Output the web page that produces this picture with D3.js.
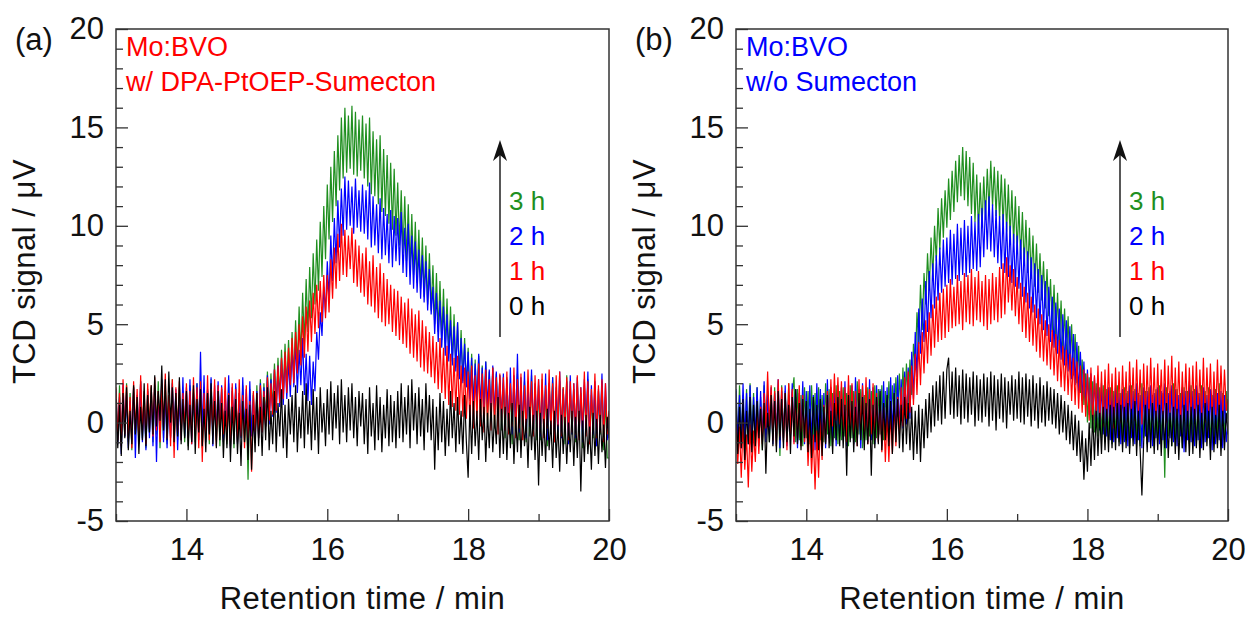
<!DOCTYPE html>
<html>
<head>
<meta charset="utf-8">
<script src="https://cdn.jsdelivr.net/npm/d3@7"></script>
<style>
  html, body { margin: 0; padding: 0; background: #fff; }
  svg { display: block; font-family: "Liberation Sans", Arial, Helvetica, sans-serif; }
</style>
</head>
<body>
<svg id="chart" width="1249" height="617"></svg>
<script>
// Retention-time window and signal range shared by both chromatograms
const retentionDomain = [13, 20];
const signalDomain = [-5, 20];
const xMajorTicks = [14, 16, 18, 20];
const xMinorTicks = [13, 15, 17, 19];
const yMajorTicks = [-5, 0, 5, 10, 15, 20];
const yMinorTicks = [-4, -3, -2, -1, 1, 2, 3, 4, 6, 7, 8, 9, 11, 12, 13, 14, 16, 17, 18, 19];
const timeLabels = ["3 h", "2 h", "1 h", "0 h"];
const panelTags = ["(a)", "(b)"];
const sampleTitles = [["Mo:BVO", "w/ DPA-PtOEP-Sumecton"], ["Mo:BVO", "w/o Sumecton"]];

// TCD traces (µV), sampled evenly from 13 to 20 min
const panelA_0h = [
  1.2,-1.3,0.9,-1.7,1.5,-0.8,1.8,-1.4,0.6,-1.1,1.9,-0.6,1.3,-1.6,0.8,-0.9,2.0,-1.2,1.4,-0.5,
  1.9,-0.6,2.4,-0.2,1.6,0.1,2.9,-0.4,2.2,-0.9,2.6,0.0,1.8,-1.0,1.5,-0.7,2.3,-1.1,1.2,-0.8,
  1.6,-1.4,0.9,-1.0,1.9,-1.6,1.2,-0.5,1.7,-1.2,0.7,-1.5,1.5,-0.6,2.0,-1.1,1.1,-1.3,1.6,-0.9,
  1.0,-1.8,0.6,-1.3,1.4,-2.0,0.8,-1.1,1.2,-1.6,0.5,-2.2,1.1,-1.0,0.7,-1.9,0.9,-2.4,0.4,-1.5,
  1.5,-1.2,0.8,-1.7,1.3,-0.9,1.8,-1.4,0.6,-1.1,1.6,-1.5,1.0,-0.7,1.7,-1.3,0.9,-1.8,1.2,-0.6,
  1.4,-1.0,1.9,-1.5,0.8,-0.8,1.6,-1.3,2.0,-0.6,1.1,-1.4,1.7,-0.9,1.3,-1.6,1.8,-0.5,1.0,-1.2,
  1.7,-0.6,2.1,-0.9,1.5,-0.3,1.9,-1.1,2.2,-0.5,1.4,-1.0,1.8,-0.4,2.0,-0.8,1.3,-1.2,1.6,-0.2,
  1.5,-1.1,1.2,-1.6,1.8,-0.7,1.0,-1.4,1.9,-0.9,1.3,-1.5,0.9,-0.8,1.7,-1.2,1.4,-1.0,1.1,-1.3,
  1.6,-0.8,2.0,-1.0,1.3,-0.6,1.9,-1.3,2.2,-0.4,1.5,-1.1,1.8,-0.7,1.2,-1.4,2.0,-0.5,1.4,-0.9,
  1.2,-2.4,0.8,-1.4,1.5,-1.0,1.1,-1.7,0.7,-1.2,1.6,-0.8,1.0,-1.5,1.3,-1.1,0.6,-1.6,1.4,-1.0,
  -2.8,0.9,-1.6,1.1,-1.2,0.6,-1.9,1.2,-0.9,0.8,-2.0,0.5,-1.3,1.0,-1.5,0.4,-1.1,1.3,-1.8,0.7,
  -1.6,0.8,-1.9,0.5,-1.3,1.0,-2.1,0.3,-1.5,0.9,-1.8,0.6,-1.2,0.2,-2.3,0.8,-1.4,0.4,-1.9,0.6,
  -3.2,0.5,-1.7,0.2,-2.0,0.7,-1.4,0.1,-2.3,0.6,-1.8,-0.1,-2.5,0.4,-1.6,0.3,-2.1,0.0,-1.5,0.6,
  -2.2,0.3,-1.8,0.6,-3.5,0.1,-2.0,0.4,-1.6,-0.2,-2.4,0.5,-1.7,0.2,-2.1,0.4,-1.5,-0.1,-2.3,0.3,
  -0.8
];
const panelA_1h = [
  1.8,-0.9,1.5,-1.2,2.2,-0.6,1.9,-0.8,1.3,-1.3,2.1,-0.4,1.7,-1.0,2.4,-0.5,1.6,-1.1,2.0,-0.3,
  1.9,-0.7,2.3,-0.4,1.6,-1.0,2.0,-0.2,2.5,-0.8,1.4,-1.2,2.2,-1.8,1.8,-0.5,2.1,-0.9,1.5,-0.3,
  2.0,-0.8,1.6,-1.1,2.3,-0.5,1.8,-1.3,2.1,-2.0,1.5,-0.6,2.4,-0.9,1.7,-0.4,2.2,-1.2,1.9,-0.7,
  1.8,-0.6,2.3,-0.9,1.5,-1.2,2.0,-0.4,1.7,-1.0,2.2,-0.7,1.4,-1.3,1.9,-0.8,1.1,-2.5,1.6,-0.5,
  1.5,-0.8,1.9,-0.5,1.6,-0.2,2.3,0.1,2.0,0.4,2.7,0.6,2.9,1.0,3.3,1.2,3.6,1.5,3.8,1.9,
  4.3,2.0,4.6,2.5,5.0,2.9,5.4,3.3,5.9,3.6,6.2,4.1,6.6,4.5,7.0,4.8,7.2,5.1,7.5,5.3,
  7.5,5.6,8.3,6.3,8.9,6.8,9.6,7.2,10.1,7.5,9.8,7.4,9.5,7.8,9.9,7.1,9.3,6.9,9.0,6.6,
  8.6,6.4,8.9,6.0,8.2,5.9,8.5,5.6,7.9,5.3,8.1,5.1,7.6,4.9,7.3,5.0,7.0,4.6,6.8,4.4,
  6.7,4.2,6.4,4.0,6.1,3.8,6.3,3.5,5.8,3.3,5.5,3.1,5.7,2.8,5.2,2.6,4.9,2.5,4.6,2.3,
  4.4,2.0,4.1,1.7,4.3,1.5,3.8,1.2,3.9,0.9,3.5,0.8,3.3,0.6,3.4,0.4,2.9,0.3,2.8,0.2,
  2.6,0.0,2.9,-0.3,2.4,0.2,3.0,-0.2,2.5,-0.5,2.7,0.1,2.2,-0.4,2.8,-0.1,2.3,-0.6,2.5,0.0,
  2.3,-0.4,2.6,-0.6,2.0,-0.2,2.8,-0.8,2.2,-0.3,2.5,-0.9,1.9,-0.5,2.7,-0.1,2.1,-0.7,2.4,-0.3,
  2.2,-0.5,2.5,-0.8,1.9,-0.3,2.7,-0.6,2.0,-1.0,2.4,-0.2,2.6,-0.7,1.8,-0.4,2.3,-0.9,2.1,-0.5,
  2.0,-0.6,2.4,-0.9,1.8,-0.4,2.6,-0.7,2.1,-1.1,1.7,-0.3,2.5,-0.8,1.9,-0.5,2.2,-1.0,2.0,-0.6,
  0.6
];
const panelA_2h = [
  1.7,-1.1,1.3,-1.6,2.0,-0.7,1.5,-1.3,1.1,-0.9,1.8,-1.8,1.4,-0.6,2.1,-1.0,1.2,-1.4,1.6,-0.8,
  1.5,-1.2,1.9,-2.0,1.4,-0.5,2.2,-1.0,1.6,-1.3,1.2,-0.8,2.0,-0.6,1.7,-1.4,1.3,-0.9,2.3,-0.7,
  1.8,-0.8,2.2,-1.1,1.5,-0.4,2.0,-0.9,3.6,-0.6,2.4,-1.0,1.7,-0.5,2.3,-1.2,1.9,-0.7,2.1,-0.3,
  1.9,-1.0,1.6,-0.6,2.4,-1.3,1.8,-0.4,2.0,-1.1,1.5,-0.8,2.3,-0.5,1.7,-1.2,2.1,-0.7,1.4,-0.9,
  1.6,-0.8,2.0,-0.5,1.8,-0.2,2.4,-0.1,2.2,0.3,2.7,0.5,2.9,0.8,3.2,0.9,3.4,1.2,3.1,1.3,
  3.8,1.8,4.1,1.5,3.7,1.9,4.3,1.4,3.5,1.1,3.4,0.9,3.1,1.6,4.6,3.2,5.6,4.4,6.9,5.6,
  8.2,6.3,9.5,7.2,10.4,8.1,11.3,8.9,11.9,9.5,12.5,9.8,12.3,10.0,12.0,9.6,12.4,9.9,11.8,9.7,
  12.1,9.6,11.8,9.3,12.2,8.9,11.5,9.0,11.1,8.6,11.4,8.3,10.9,8.5,10.6,8.1,10.8,7.9,10.5,8.2,
  10.4,8.0,10.7,7.6,9.9,7.4,10.1,7.0,9.5,6.8,9.2,6.6,8.8,6.3,8.5,6.1,8.2,5.7,7.8,5.5,
  6.9,4.5,6.6,4.1,6.2,3.8,5.9,3.4,5.5,3.1,5.2,2.9,4.9,2.6,5.1,2.2,4.3,2.0,4.0,1.8,
  3.6,1.2,3.3,0.9,3.0,1.1,3.5,0.7,2.8,0.5,3.1,0.8,2.7,0.3,2.9,0.4,2.6,0.2,2.4,0.1,
  2.5,-0.4,2.2,-0.2,2.8,-0.6,2.4,-0.1,3.5,-0.5,2.3,-0.3,2.6,-0.8,2.1,-0.2,2.7,-0.6,2.0,-0.4,
  2.2,-0.7,1.9,-0.4,2.5,-0.9,2.0,-0.3,2.3,-1.0,1.8,-0.5,2.6,-0.8,1.7,-0.2,2.1,-1.1,2.4,-0.6,
  2.0,-0.8,2.3,-0.5,1.8,-1.0,2.2,-0.3,2.6,-0.9,1.9,-0.6,2.1,-1.2,1.7,-0.4,2.5,-0.7,2.0,-0.9,
  0.5
];
const panelA_3h = [
  1.6,-0.9,1.9,-1.2,1.3,-0.7,2.0,-1.0,1.5,-1.4,1.8,-0.6,1.2,-1.1,2.1,-0.8,1.4,-1.3,1.7,-0.5,
  1.8,-1.0,1.4,-0.6,2.1,-1.3,1.6,-0.8,1.9,-1.1,1.3,-0.7,2.2,-1.2,1.5,-0.9,1.8,-0.4,1.6,-1.0,
  1.5,-1.2,1.9,-0.7,1.7,-1.0,2.0,-0.5,1.4,-1.3,1.8,-0.8,1.6,-1.1,2.2,-0.6,1.3,-0.9,1.9,-1.2,
  1.7,-0.8,1.4,-1.1,2.0,-0.6,1.6,-1.3,1.8,-0.9,1.5,-0.7,1.9,-1.0,1.3,-2.9,1.7,-0.5,1.5,-1.0,
  1.9,-0.6,2.2,-0.3,2.0,0.1,2.6,0.3,2.5,0.7,3.0,0.9,3.3,1.2,3.7,1.5,4.0,1.8,4.2,2.0,
  4.6,2.2,5.2,2.8,5.9,3.3,6.6,4.0,7.3,4.6,7.9,5.3,8.6,6.0,9.3,6.7,10.2,7.4,11.0,8.3,
  12.1,9.3,13.0,10.2,13.8,11.0,14.6,11.8,15.5,12.4,16.0,12.7,15.6,12.9,16.1,12.6,15.8,12.5,15.4,12.8,
  15.6,12.4,15.2,12.0,15.5,11.6,14.8,11.5,14.4,11.1,14.6,10.7,13.9,10.5,13.6,10.1,13.2,9.8,12.9,9.5,
  12.2,9.0,11.8,8.6,11.5,8.2,11.1,7.8,10.6,7.5,10.2,7.1,9.8,6.8,9.4,6.4,9.0,6.0,8.6,5.7,
  8.0,5.0,7.6,4.6,7.2,4.2,6.8,3.8,6.3,3.5,5.9,3.1,5.5,2.8,5.1,2.4,4.7,2.1,4.3,1.8,
  3.8,1.1,3.5,0.8,3.2,0.5,3.4,0.3,2.9,0.1,3.1,-0.1,2.6,0.2,2.8,-0.3,2.5,-0.2,2.4,-0.4,
  2.0,-0.8,2.3,-0.5,1.8,-1.1,2.2,-0.6,2.5,-0.9,1.7,-0.4,2.1,-1.0,1.9,-0.7,2.4,-0.5,1.8,-0.9,
  1.9,-0.9,2.2,-0.6,1.7,-1.2,2.0,-0.4,2.3,-1.0,1.6,-0.7,2.1,-0.5,1.8,-1.1,2.4,-0.8,1.7,-0.6,
  1.7,-1.0,2.0,-0.7,1.5,-1.3,1.9,-0.5,2.2,-1.1,1.4,-0.8,1.8,-1.2,1.6,-0.6,2.1,-1.4,1.3,-1.8,
  -1.8
];

const panelB_0h = [
  1.0,-1.6,0.8,-1.3,1.2,-1.9,0.6,-1.1,1.3,-1.5,0.9,-1.2,1.1,-0.8,0.7,-1.4,1.0,-2.6,0.5,-1.0,
  1.4,-1.2,1.1,-1.5,1.6,-0.9,1.2,-1.3,1.5,-1.0,0.9,-1.6,1.3,-0.7,1.7,-1.1,1.0,-1.4,1.2,-0.8,
  1.1,-1.5,0.7,-1.8,1.3,-1.0,0.9,-1.4,1.2,-1.7,0.8,-1.1,1.4,-1.3,0.6,-1.6,1.0,-0.9,1.3,-1.2,
  1.2,-1.3,0.9,-2.7,1.4,-1.0,1.1,-1.5,0.8,-1.2,1.5,-0.9,1.3,-1.4,1.0,-1.1,1.2,-2.7,0.9,-1.3,
  1.3,-1.1,1.6,-1.4,1.0,-0.9,1.4,-1.2,1.1,-1.6,1.5,-1.0,1.2,-1.3,0.9,-1.5,1.3,-1.1,1.0,-1.4,
  0.8,-1.9,0.6,-1.6,0.9,-2.0,0.7,-1.3,1.2,-0.8,1.5,-0.5,1.9,-0.2,2.1,0.1,2.4,-0.1,2.6,0.2,
  2.7,3.3,0.4,2.6,0.2,2.8,0.3,2.4,-0.1,2.7,0.2,2.5,0.0,2.3,0.4,2.6,-0.2,2.4,0.1,2.2,
  0.0,2.5,0.3,2.3,-0.2,2.6,0.1,2.4,-0.4,2.2,0.2,2.5,0.0,2.3,-0.3,2.1,0.4,2.4,0.1,2.2,
  0.2,2.6,0.0,2.3,-0.1,2.5,0.3,2.2,-0.2,2.4,0.1,2.0,-0.3,2.3,0.0,1.9,-0.2,2.1,0.1,1.8,
  -0.1,1.7,-0.3,1.5,-0.6,1.4,-0.5,1.1,-0.9,0.9,-1.1,0.6,-1.4,0.4,-1.7,0.1,-2.0,-0.4,-2.9,-0.8,
  -2.5,0.0,-2.2,0.4,-1.9,0.6,-1.7,0.5,-1.6,0.8,-1.4,0.7,-1.5,0.9,-1.3,0.8,-1.4,1.0,-1.2,0.9,
  -1.5,0.8,-1.3,1.0,-1.6,0.7,-1.2,1.1,-1.7,0.6,-1.4,-3.7,-1.0,0.9,-1.5,0.7,-1.3,1.0,-1.6,0.6,
  -1.4,0.9,-1.7,0.6,-1.3,1.0,-1.8,0.5,-1.2,0.8,-1.6,0.7,-1.9,0.4,-1.3,0.9,-1.5,0.6,-1.7,0.8,
  -1.6,0.7,-1.3,0.9,-1.8,0.5,-1.4,1.0,-1.2,0.6,-1.9,0.8,-1.5,0.4,-1.3,0.9,-1.7,0.6,-1.4,0.5,
  -0.6
];
const panelB_1h = [
  0.3,-2.1,-0.2,-2.8,0.1,-2.4,-0.6,-3.3,-0.1,-2.5,-0.4,-2.0,0.4,-1.6,0.8,-1.1,1.5,-0.3,2.6,-0.2,
  1.9,-0.9,1.6,-1.2,2.2,-0.7,1.8,-1.0,1.5,-1.4,2.0,-0.6,1.7,-1.1,1.3,-0.8,1.9,-1.2,1.4,-1.0,
  0.5,-2.2,0.1,-2.6,-0.6,-3.4,-0.4,-2.8,0.2,-1.9,0.9,-1.0,1.6,-0.5,2.2,-0.2,2.5,0.1,2.3,-0.1,
  2.1,-0.7,1.8,-1.0,2.4,-0.5,2.0,-0.9,1.6,-1.2,2.2,-0.4,1.9,-0.8,2.3,-1.1,1.7,-0.6,2.0,-0.9,
  1.5,-1.0,1.2,-1.5,0.8,-2.0,0.4,-2.0,0.5,-1.6,0.9,-1.2,1.3,-0.6,1.8,-0.2,2.3,0.2,2.6,0.5,
  2.9,0.9,3.5,1.4,4.1,1.9,4.6,2.5,5.2,3.0,5.6,3.4,6.0,3.8,6.4,4.1,6.6,4.2,6.8,4.3,
  7.0,4.6,7.3,4.8,6.9,4.9,7.5,5.0,7.2,4.7,7.6,5.1,7.5,5.0,7.8,4.9,7.4,5.2,7.7,5.1,
  7.2,4.9,7.5,4.7,7.3,5.0,7.6,5.2,7.4,5.1,7.9,5.3,8.1,5.5,8.4,6.1,8.0,5.7,7.8,5.4,
  7.4,5.0,7.1,4.6,6.9,4.3,6.6,4.1,6.4,3.9,6.0,3.6,5.8,3.3,5.5,3.1,5.2,2.9,5.0,2.7,
  4.7,2.4,4.5,2.1,4.2,1.8,3.9,1.6,3.7,1.4,3.5,1.1,3.3,0.9,3.1,0.7,2.9,0.5,2.7,0.3,
  2.5,0.1,2.8,-0.1,2.4,0.3,2.9,0.0,2.6,-0.2,2.7,0.2,3.0,0.1,2.5,-0.3,2.8,0.2,2.6,0.0,
  2.9,0.3,2.6,0.0,3.1,0.5,2.8,0.1,3.2,0.4,2.7,-0.1,3.0,0.3,2.9,0.2,3.3,0.4,2.8,0.1,
  3.0,0.2,2.7,0.4,3.2,0.0,2.9,0.5,3.4,0.1,2.8,0.3,3.1,-0.1,2.6,0.4,3.0,0.2,2.8,0.3,
  2.9,0.1,3.1,0.4,2.7,0.2,3.3,0.0,2.8,0.5,3.0,0.1,2.6,0.3,3.2,0.2,2.9,0.4,2.7,0.6,
  1.2
];
const panelB_2h = [
  1.7,-1.0,1.4,-1.3,2.0,-0.8,1.5,-1.1,1.9,-1.4,1.3,-0.7,1.8,-1.2,1.6,-0.9,2.1,-1.0,1.4,-0.6,
  1.8,-1.1,1.5,-0.8,2.2,-1.3,1.6,-0.9,1.9,-1.2,1.4,-0.6,2.0,-1.0,1.7,-1.3,1.5,-0.8,2.1,-1.1,
  1.6,-1.2,1.9,-0.9,1.4,-1.4,2.0,-0.7,1.7,-1.1,1.5,-1.3,2.2,-0.8,1.8,-1.0,1.6,-1.2,1.9,-0.7,
  1.8,-0.9,2.1,-1.2,1.6,-0.7,1.9,-1.1,2.3,-0.8,1.7,-1.3,2.0,-0.6,1.5,-1.0,2.2,-0.9,1.8,-1.1,
  1.9,-0.9,1.7,-1.2,2.1,-0.8,1.8,-1.0,2.3,-0.6,2.0,-0.7,2.4,-0.4,2.2,-0.3,2.6,-0.1,2.8,0.2,
  3.6,1.2,4.6,2.3,5.8,3.5,6.3,4.1,7.2,4.6,7.7,5.3,8.1,5.8,8.5,6.2,8.9,6.6,9.3,6.9,
  9.4,7.1,9.8,7.0,9.6,7.3,10.1,7.2,9.9,7.5,10.3,7.4,10.0,7.6,10.5,7.8,10.2,7.7,10.6,7.9,
  10.9,8.4,11.3,8.8,11.5,8.7,11.1,8.4,10.8,8.1,10.5,7.8,10.6,7.6,10.2,7.4,10.0,7.1,9.6,6.9,
  9.5,6.8,9.3,6.4,8.9,6.1,8.7,5.8,8.4,5.6,8.1,5.3,7.8,5.0,7.5,4.7,7.2,4.4,6.9,4.1,
  6.4,3.8,6.1,3.5,5.8,3.2,5.5,2.9,5.2,2.6,4.9,2.2,4.5,1.9,4.1,1.5,3.6,1.1,3.1,0.8,
  2.7,0.4,2.5,0.1,2.3,-0.2,2.1,-0.4,2.0,-0.6,1.9,-0.7,1.8,-0.9,1.6,-1.0,1.8,-0.8,1.5,-1.1,
  1.7,-1.0,1.5,-1.2,1.9,-0.8,1.6,-1.1,2.0,-0.9,1.4,-1.3,1.8,-0.7,1.6,-1.0,1.9,-1.2,1.5,-0.8,
  1.8,-1.1,1.6,-0.9,2.0,-1.3,1.5,-0.8,1.9,-1.0,1.7,-1.2,1.4,-0.7,1.8,-1.5,1.6,-0.9,2.1,-1.0,
  1.6,-1.2,1.9,-0.9,1.5,-1.3,1.8,-1.0,1.4,-0.8,1.7,-1.4,1.9,-1.1,1.5,-0.9,1.6,-1.3,1.4,-1.0,
  0.0
];
const panelB_3h = [
  1.6,-1.1,1.9,-0.8,1.4,-1.3,1.7,-1.0,2.0,-0.7,1.5,-1.2,1.8,-0.9,1.3,-1.4,1.9,-0.6,1.6,-1.0,
  1.5,-0.9,1.8,-1.2,1.4,-1.7,1.9,-0.8,1.6,-1.1,2.0,-0.7,1.5,2.3,-1.0,1.7,-0.9,1.4,-1.2,1.8,
  -0.8,1.6,-1.1,1.9,-0.7,1.5,-1.3,1.8,-0.9,1.4,-1.0,2.0,-0.6,1.7,-1.2,1.5,-0.8,1.9,-1.1,1.6,
  -0.9,1.8,-0.7,1.5,-1.2,1.9,-0.8,1.6,-1.0,2.1,-0.6,1.7,-1.3,1.4,-0.9,1.8,-0.7,1.6,-1.1,1.9,
  -0.8,1.7,-0.6,1.9,-0.9,1.6,-0.4,2.1,-0.2,1.9,0.1,2.3,0.3,2.5,0.2,2.8,0.5,3.0,0.7,3.2,
  1.4,4.0,2.8,5.6,4.0,7.0,4.7,7.6,6.0,8.6,6.7,9.4,7.4,10.0,8.2,10.9,8.8,11.4,9.4,11.8,
  9.9,12.4,10.3,12.8,10.7,13.3,11.2,13.6,11.5,14.0,11.3,13.8,11.0,13.5,10.6,13.2,10.2,12.6,9.7,12.2,
  9.9,12.5,10.3,12.9,10.8,13.3,11.0,13.0,10.5,12.8,10.3,12.6,10.0,12.4,9.7,12.1,9.4,11.8,9.1,11.5,
  8.7,11.0,8.3,10.7,8.0,10.3,7.6,9.9,7.3,9.5,6.9,9.1,6.6,8.6,6.2,8.2,5.8,7.8,5.4,7.3,
  4.6,7.0,4.2,6.6,3.9,6.2,3.5,5.8,3.1,5.4,2.7,5.0,2.4,4.5,2.0,3.9,1.5,3.2,0.9,2.5,
  0.0,2.3,-0.3,2.1,-0.5,2.0,-0.7,1.8,-0.8,1.9,-1.0,1.7,-0.9,1.8,-1.1,1.6,-0.8,1.9,-1.0,1.5,
  -1.1,1.8,-0.9,1.6,-1.3,1.9,-0.7,1.7,-1.0,1.5,-1.2,2.0,-0.8,1.6,-1.1,1.8,-0.9,1.4,-1.3,1.7,
  -0.9,1.9,-1.1,1.5,-2.8,1.8,-0.7,1.6,-1.2,2.0,-0.8,1.7,-1.0,1.5,-1.3,1.8,-0.9,1.6,-1.1,1.9,
  -0.8,1.7,-1.2,1.5,-0.9,1.9,-1.1,1.6,-0.7,1.8,-1.3,1.4,-1.0,1.7,-0.8,2.0,-1.2,1.5,-0.9,1.6,
  0.2
];

// Trace colours, drawn back to front: 3 h, 2 h, 1 h, 0 h
const traceColors = ["#1f8f1f", "#0000ff", "#ff0000", "#000000"];

const panels = [
  { tag: panelTags[0], title: sampleTitles[0], titleColor: "#ff0000",
    traces: [panelA_3h, panelA_2h, panelA_1h, panelA_0h],
    left: 116, right: 609, arrowX: 500 },
  { tag: panelTags[1], title: sampleTitles[1], titleColor: "#0000ff",
    traces: [panelB_3h, panelB_2h, panelB_1h, panelB_0h],
    left: 736, right: 1228, arrowX: 1120 }
];

const plotTop = 29, plotBottom = 521;
const axisColor = "#333";
const svg = d3.select("#chart");
const defs = svg.append("defs");

panels.forEach((p, pi) => {
  const x = d3.scaleLinear().domain(retentionDomain).range([p.left, p.right]);
  const y = d3.scaleLinear().domain(signalDomain).range([plotBottom, plotTop]);
  const g = svg.append("g");

  const clipId = "clip-" + pi;
  defs.append("clipPath").attr("id", clipId)
    .append("rect").attr("x", p.left).attr("y", plotTop)
    .attr("width", p.right - p.left).attr("height", plotBottom - plotTop);

  // chromatogram traces
  const traces = g.append("g").attr("clip-path", `url(#${clipId})`);
  p.traces.forEach((vals, si) => {
    const n = vals.length;
    const t = i => retentionDomain[0] + i * (retentionDomain[1] - retentionDomain[0]) / (n - 1);
    const line = d3.line().x((d, i) => x(t(i))).y(d => y(d));
    traces.append("path").datum(vals)
      .attr("d", line)
      .attr("fill", "none")
      .attr("stroke", traceColors[si])
      .attr("stroke-width", 1.2)
      .attr("stroke-linejoin", "miter");
  });

  // minor ticks (inward)
  g.append("g").attr("transform", `translate(${p.left},0)`)
    .call(d3.axisLeft(y).tickValues(yMinorTicks).tickSize(-7).tickFormat(""))
    .call(s => s.select(".domain").remove());
  g.append("g").attr("transform", `translate(0,${plotBottom})`)
    .call(d3.axisBottom(x).tickValues(xMinorTicks).tickSize(-7).tickFormat(""))
    .call(s => s.select(".domain").remove());

  // major ticks with labels (plain hyphen for negatives)
  g.append("g").attr("transform", `translate(${p.left},0)`)
    .call(d3.axisLeft(y).tickValues(yMajorTicks).tickSize(-12).tickPadding(12).tickFormat(d => String(d)))
    .call(s => s.select(".domain").remove());
  g.append("g").attr("transform", `translate(0,${plotBottom})`)
    .call(d3.axisBottom(x).tickValues(xMajorTicks).tickSize(-12).tickPadding(17).tickFormat(d => String(d)))
    .call(s => s.select(".domain").remove());

  g.selectAll(".tick line").attr("stroke", axisColor).attr("stroke-width", 1.3);
  g.selectAll(".tick text")
    .attr("fill", "#111")
    .style("font-size", "31px")
    .style("font-family", '"Liberation Sans", Arial, sans-serif');

  // frame
  g.append("rect")
    .attr("x", p.left).attr("y", plotTop)
    .attr("width", p.right - p.left).attr("height", plotBottom - plotTop)
    .attr("fill", "none").attr("stroke", axisColor).attr("stroke-width", 1.5);

  // panel tag
  g.append("text").attr("x", p.left - 101).attr("y", 50)
    .attr("fill", "#111").style("font-size", "31px").text(p.tag);

  // sample description
  p.title.forEach((s, k) => {
    g.append("text").attr("x", p.left + 10).attr("y", 56 + k * 35)
      .attr("fill", p.titleColor).style("font-size", "27px").text(s);
  });

  // axis titles
  g.append("text")
    .attr("transform", `translate(${p.left - 81},271.5) rotate(-90)`)
    .attr("text-anchor", "middle").attr("fill", "#111")
    .style("font-size", "31px").style("letter-spacing", "0.5px")
    .text("TCD signal / \u03bcV");
  g.append("text")
    .attr("x", (p.left + p.right) / 2).attr("y", 609)
    .attr("text-anchor", "middle").attr("fill", "#111")
    .style("font-size", "31px").style("letter-spacing", "0.5px")
    .text("Retention time / min");

  // time arrow and labels
  const ax = p.arrowX, tipY = 140, baseY = 337;
  g.append("line").attr("x1", ax).attr("x2", ax).attr("y1", baseY).attr("y2", tipY + 10)
    .attr("stroke", "#111").attr("stroke-width", 1.4);
  g.append("path")
    .attr("d", `M${ax},${tipY} L${ax + 7},${tipY + 21} L${ax},${tipY + 15} L${ax - 7},${tipY + 21} Z`)
    .attr("fill", "#111");
  timeLabels.forEach((s, k) => {
    g.append("text").attr("x", ax + 9).attr("y", 210 + k * 35)
      .attr("fill", traceColors[k]).style("font-size", "26px").text(s);
  });
});
</script>
</body>
</html>
